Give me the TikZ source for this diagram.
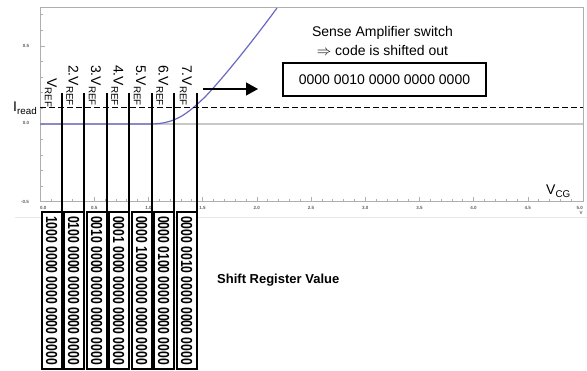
\documentclass[tikz,border=0pt]{standalone}
\usepackage{fontspec}
\setmainfont{Liberation Sans}
\usetikzlibrary{arrows.meta}

\definecolor{framegray}{RGB}{175,175,175}
\definecolor{zerogray}{RGB}{200,200,200}
\definecolor{rulegray}{RGB}{232,232,232}
\definecolor{curveblue}{RGB}{105,105,195}
\definecolor{ticktext}{RGB}{95,95,95}

\begin{document}
\begin{tikzpicture}[x=1pt,y=-1pt,
  axisline/.style={draw=framegray,line width=1pt},
  ticklabel/.style={font=\fontsize{4.5}{5}\bfseries\selectfont,text=ticktext,inner sep=0pt},
  vlabel/.style={anchor=base west,rotate=-90,inner sep=0pt,font=\fontsize{14}{16}\selectfont},
  regbox/.style={draw,fill=white,line width=2pt,inner sep=0pt,outer sep=0pt,
    minimum width=20.5pt,minimum height=157pt,font=\fontsize{16}{18}\bfseries\selectfont},
  regline/.style={line width=2pt},
  mainfont/.style={font=\fontsize{14}{16}\selectfont}
]
\useasboundingbox[fill=white] (0,0) rectangle (587,371);

% faint rule under the axis labels
\draw[rulegray,line width=0.8pt] (15,217) -- (587,217);

% plot frame and axes
\draw[axisline] (40,8) -- (583,8) -- (583,202);
\draw[axisline] (40,8) -- (40,202) -- (583,202);
\draw[zerogray,line width=2pt] (40,124) -- (583,124);

% x ticks: 0.1 V steps, longer every 0.5 V
\foreach \i in {1,...,49}{
  \pgfmathsetmacro\tl{mod(\i,5)==0 ? 5 : 3}
  \draw[framegray,line width=0.6pt] ({40+10.84*\i},202) -- ++(0,-\tl);
}
% y ticks
\foreach \k in {-4,...,7}{
  \pgfmathsetmacro\tl{mod(\k,5)==0 ? 5 : 3}
  \draw[framegray,line width=0.6pt] (40,{124-15.6*\k}) -- ++(\tl,0);
}

% tick labels
\node[ticklabel,anchor=west] (xl0) at (40,207.5) {0.0};
\foreach \j/\t in {1/0.5,2/1.0,3/1.5,4/2.0,5/2.5,6/3.0,7/3.5,8/4.0,9/4.5}{
  \node[ticklabel] (xl\j) at ({40+54.2*\j},207.5) {\t};
}
\node[ticklabel,anchor=east] (xl10) at (583,207.5) {5.0};
\node[ticklabel] (xunit) at (581,213) {V};
\node[ticklabel] (yl1) at (26,46) {0.5};
\node[ticklabel] (yl0) at (26,123) {0.0};
\node[ticklabel] (ylm) at (25,202) {-0.5};

% characteristic curve
\draw[curveblue,line width=1.2pt] (40,124) -- (150,124)
  .. controls (176,124) and (188,113) .. (205,97)
  .. controls (225,76) and (255,38) .. (277,8);

% read current level
\draw[line width=1.2pt,dash pattern=on 6pt off 3pt] (40,107.5) -- (583,107.5);

% shift register boxes, one per reference step (right edges at the V_REF steps)
\foreach \n/\rx/\code in {1/62/1000, 2/84/0100, 3/107/0010, 4/129/0001}{
  \node[regbox] (r\n) at ({\rx-10.25},290.5)
    {\rotatebox{-90}{\scalebox{0.76}[1]{\code\ 0000 0000 0000 0000}}};
}
\foreach \n/\rx/\code in {5/152/1000, 6/174/0100, 7/197/0010}{
  \node[regbox] (r\n) at ({\rx-10.25},290.5)
    {\rotatebox{-90}{\scalebox{0.76}[1]{0000 \code\ 0000 0000 0000}}};
}

% reference voltage markers rising from the boxes
\foreach \n in {1,...,7}{
  \coordinate (top\n) at (r\n.north east |- 0,93);
  \draw[regline] (r\n.north east) -- (top\n);
}

\node[vlabel] (v1) at (47,78) {V\textsubscript{REF}};
\node[vlabel] (v2) at (68.5,65) {2.V\textsubscript{REF}};
\node[vlabel] (v3) at (91,65) {3.V\textsubscript{REF}};
\node[vlabel] (v4) at (113.5,65) {4.V\textsubscript{REF}};
\node[vlabel] (v5) at (136,65) {5.V\textsubscript{REF}};
\node[vlabel] (v6) at (158.5,65) {6.V\textsubscript{REF}};
\node[vlabel] (v7) at (182,65) {7.V\textsubscript{REF}};

% axis names
\node[mainfont,anchor=base west,inner sep=0pt] (iread) at (13,112) {I\textsubscript{read}};
\node[mainfont,anchor=base west,inner sep=0pt] (vcg) at (546,195) {V\textsubscript{CG}};

% sense amplifier output
\coordinate (arrS) at (203,89);
\coordinate (arrE) at (258,89);
\draw[line width=1.3pt,-{Triangle[length=12pt,width=13pt]}] (arrS) -- (arrE);
\node[mainfont,anchor=base,inner sep=0pt] (sense1) at (382.5,36.5) {Sense Amplifier switch};
\node[mainfont,anchor=base,inner sep=0pt] (sense2) at (382.5,56) {$\Rightarrow$ code is shifted out};
\node[mainfont,draw,line width=1.2pt,minimum width=203pt,minimum height=33pt,inner sep=0pt] (out)
  at (384.5,79.5) {0000 0010 0000 0000 0000};

\node[font=\fontsize{13}{15}\bfseries\selectfont,anchor=base west,inner sep=0pt] (srv) at (217,284) {Shift Register Value};
\end{tikzpicture}
\end{document}
